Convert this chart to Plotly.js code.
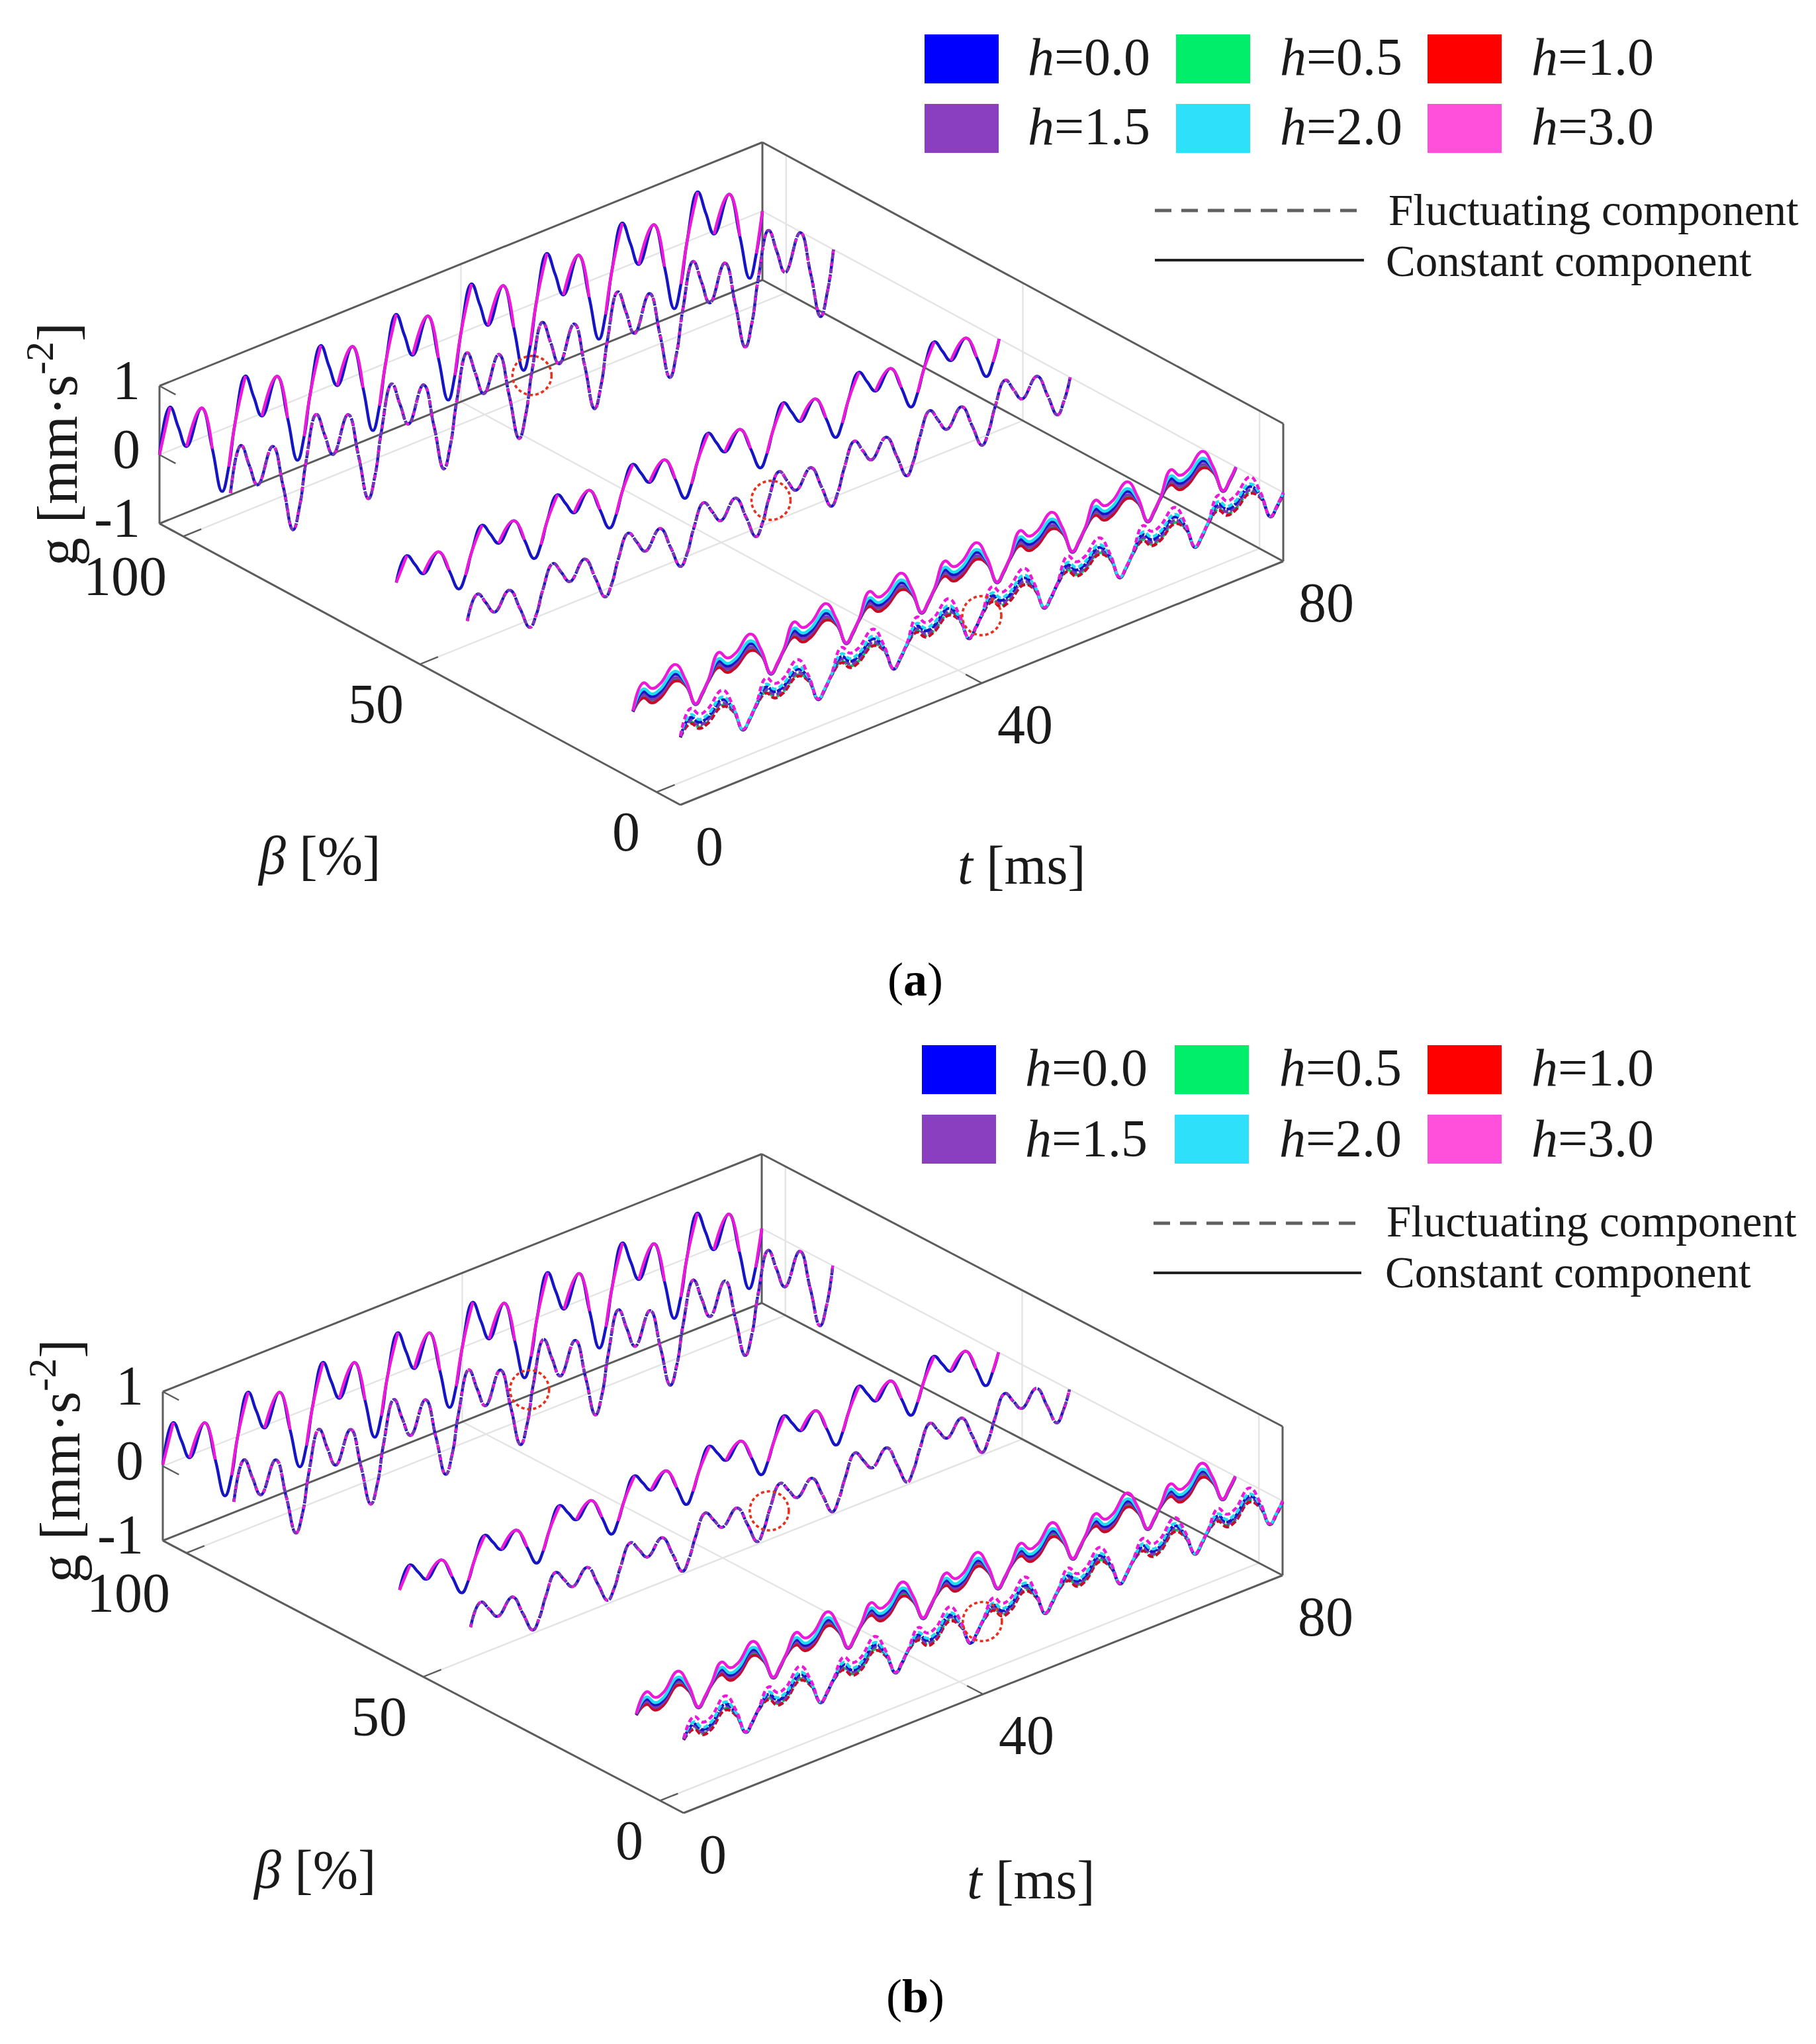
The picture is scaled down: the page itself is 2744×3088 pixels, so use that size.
<!DOCTYPE html>
<html><head><meta charset="utf-8">
<script src="https://cdn.plot.ly/plotly-3.0.1.min.js"></script>
<style>html,body{margin:0;padding:0;background:#fff}</style></head>
<body><div id="chart" style="width:2744px;height:3088px"></div>
<script>
// ---------- shared values ----------
const tMs = [
 0,1.4,2.5,3.6,5.6,7,8.3,9.2,
 10,11.4,12.5,13.6,15.6,17,18.3,19.2,
 20,21.4,22.5,23.6,25.6,27,28.3,29.2,
 30,31.4,32.5,33.6,35.6,37,38.3,39.2,
 40,41.4,42.5,43.6,45.6,47,48.3,49.2,
 50,51.4,52.5,53.6,55.6,57,58.3,59.2,
 60,61.4,62.5,63.6,65.6,67,68.3,69.2,
 70,71.4,72.5,73.6,75.6,77,78.3,79.2,
 80];
const hLabels = ['h=0.0','h=0.5','h=1.0','h=1.5','h=2.0','h=3.0'];
const betaConstant = [105,55,5];
const betaFluctuating = [90,40,-5];
const tTicks = [0,40,80];
const betaTicks = [100,50,0];
const gTicks = [1,0,-1];
const betaLabels = ['100','50','0'];
const tLabels = ['0','40','80'];
const gLabels = ['1','0','-1'];
const circleBeta = [90,40,-5];
const circleTA = [40,40.3,40];
const circleGA = [-0.06,-0.03,-0.02];
const circleTB = [39.5,39.9,39.9];
const circleGB = [-0.05,-0.03,-0.02];

// ---------- panel (a) values ----------
const aFar = [
 0.00,0.63,0.29,-0.04,0.43,-0.22,-0.90,-0.58,
 0.00,0.64,0.29,-0.04,0.45,-0.22,-0.89,-0.58,
 0.00,0.64,0.29,-0.04,0.44,-0.22,-0.90,-0.58,
 0.00,0.65,0.30,-0.04,0.44,-0.23,-0.90,-0.58,
 0.00,0.65,0.30,-0.05,0.44,-0.23,-0.91,-0.59,
 0.00,0.65,0.30,-0.05,0.44,-0.23,-0.90,-0.58,
 0.00,0.65,0.30,-0.05,0.44,-0.23,-0.90,-0.58,
 0.00,0.66,0.30,-0.05,0.44,-0.23,-0.90,-0.58,
 0.00];
const aMid = [
 0.00,0.33,0.15,-0.03,0.20,-0.13,-0.46,-0.30,
 0.00,0.33,0.15,-0.03,0.21,-0.13,-0.46,-0.30,
 0.00,0.33,0.15,-0.03,0.21,-0.13,-0.46,-0.30,
 0.00,0.33,0.15,-0.03,0.21,-0.13,-0.47,-0.30,
 0.00,0.34,0.15,-0.03,0.21,-0.13,-0.47,-0.30,
 0.00,0.34,0.15,-0.03,0.21,-0.13,-0.47,-0.30,
 0.00,0.34,0.15,-0.03,0.21,-0.13,-0.47,-0.30,
 0.00,0.34,0.15,-0.03,0.21,-0.13,-0.47,-0.30,
 0.00];
const aNear00 = [
 -0.01,0.21,0.09,0.11,0.28,0.09,-0.275,-0.16,
 -0.01,0.21,0.09,0.11,0.28,0.09,-0.275,-0.16,
 -0.01,0.21,0.09,0.11,0.28,0.09,-0.275,-0.16,
 -0.01,0.21,0.09,0.11,0.28,0.09,-0.275,-0.16,
 -0.01,0.21,0.09,0.11,0.28,0.09,-0.275,-0.16,
 -0.01,0.21,0.09,0.11,0.28,0.09,-0.275,-0.16,
 -0.01,0.21,0.09,0.11,0.28,0.09,-0.275,-0.16,
 -0.01,0.21,0.09,0.11,0.28,0.09,-0.275,-0.16,
 -0.01];
const aNear05 = [
 -0.02,0.14,0.02,0.04,0.20,0.06,-0.28,-0.17,
 -0.02,0.14,0.02,0.04,0.20,0.06,-0.28,-0.17,
 -0.02,0.14,0.02,0.04,0.20,0.06,-0.28,-0.17,
 -0.02,0.14,0.02,0.04,0.20,0.06,-0.28,-0.17,
 -0.02,0.14,0.02,0.04,0.20,0.06,-0.28,-0.17,
 -0.02,0.14,0.02,0.04,0.20,0.06,-0.28,-0.17,
 -0.02,0.14,0.02,0.04,0.20,0.06,-0.28,-0.17,
 -0.02,0.14,0.02,0.04,0.20,0.06,-0.28,-0.17,
 -0.02];
const aNear10 = [
 -0.02,0.12,0.00,0.02,0.18,0.05,-0.28,-0.17,
 -0.02,0.12,0.00,0.02,0.18,0.05,-0.28,-0.17,
 -0.02,0.12,0.00,0.02,0.18,0.05,-0.28,-0.17,
 -0.02,0.12,0.00,0.02,0.18,0.05,-0.28,-0.17,
 -0.02,0.12,0.00,0.02,0.18,0.05,-0.28,-0.17,
 -0.02,0.12,0.00,0.02,0.18,0.05,-0.28,-0.17,
 -0.02,0.12,0.00,0.02,0.18,0.05,-0.28,-0.17,
 -0.02,0.12,0.00,0.02,0.18,0.05,-0.28,-0.17,
 -0.02];
const aNear15 = [
 -0.01,0.17,0.05,0.07,0.23,0.07,-0.28,-0.16,
 -0.01,0.17,0.05,0.07,0.23,0.07,-0.28,-0.16,
 -0.01,0.17,0.05,0.07,0.23,0.07,-0.28,-0.16,
 -0.01,0.17,0.05,0.07,0.23,0.07,-0.28,-0.16,
 -0.01,0.17,0.05,0.07,0.23,0.07,-0.28,-0.16,
 -0.01,0.17,0.05,0.07,0.23,0.07,-0.28,-0.16,
 -0.01,0.17,0.05,0.07,0.23,0.07,-0.28,-0.16,
 -0.01,0.17,0.05,0.07,0.23,0.07,-0.28,-0.16,
 -0.01];
const aNear20 = [
 0.00,0.25,0.13,0.15,0.32,0.10,-0.27,-0.15,
 0.00,0.25,0.13,0.15,0.32,0.10,-0.27,-0.15,
 0.00,0.25,0.13,0.15,0.32,0.10,-0.27,-0.15,
 0.00,0.25,0.13,0.15,0.32,0.10,-0.27,-0.15,
 0.00,0.25,0.13,0.15,0.32,0.10,-0.27,-0.15,
 0.00,0.25,0.13,0.15,0.32,0.10,-0.27,-0.15,
 0.00,0.25,0.13,0.15,0.32,0.10,-0.27,-0.15,
 0.00,0.25,0.13,0.15,0.32,0.10,-0.27,-0.15,
 0.00];
const aNear30 = [
 0.00,0.34,0.21,0.23,0.42,0.13,-0.27,-0.15,
 0.00,0.34,0.21,0.23,0.42,0.13,-0.27,-0.15,
 0.00,0.34,0.21,0.23,0.42,0.13,-0.27,-0.15,
 0.00,0.34,0.21,0.23,0.42,0.13,-0.27,-0.15,
 0.00,0.34,0.21,0.23,0.42,0.13,-0.27,-0.15,
 0.00,0.34,0.21,0.23,0.42,0.13,-0.27,-0.15,
 0.00,0.34,0.21,0.23,0.42,0.13,-0.27,-0.15,
 0.00,0.34,0.21,0.23,0.42,0.13,-0.27,-0.15,
 0.00];

// ---------- panel (b) values ----------
const bFar = [
 0.02,0.53,0.24,-0.03,0.36,-0.19,-0.73,-0.49,
 0.00,0.54,0.24,-0.03,0.37,-0.19,-0.74,-0.49,
 0.00,0.54,0.24,-0.03,0.37,-0.19,-0.74,-0.49,
 0.00,0.54,0.24,-0.03,0.37,-0.19,-0.74,-0.49,
 0.00,0.55,0.25,-0.03,0.37,-0.19,-0.74,-0.49,
 0.00,0.55,0.25,-0.03,0.37,-0.19,-0.74,-0.49,
 0.00,0.55,0.25,-0.03,0.37,-0.19,-0.74,-0.49,
 0.00,0.55,0.25,-0.03,0.37,-0.19,-0.74,-0.49,
 0.00];
const bMid = [
 0.00,0.28,0.14,0.00,0.18,-0.10,-0.37,-0.24,
 0.00,0.28,0.14,0.00,0.18,-0.10,-0.37,-0.24,
 0.00,0.28,0.14,0.00,0.18,-0.10,-0.38,-0.24,
 0.00,0.28,0.14,0.00,0.18,-0.10,-0.38,-0.24,
 0.00,0.28,0.14,0.00,0.18,-0.10,-0.38,-0.24,
 0.00,0.29,0.14,0.00,0.19,-0.10,-0.38,-0.24,
 0.00,0.29,0.14,0.00,0.19,-0.10,-0.38,-0.24,
 0.00,0.29,0.14,0.00,0.19,-0.10,-0.38,-0.24,
 0.00];
const bNear00 = [
 -0.01,0.14,0.02,0.04,0.24,0.06,-0.245,-0.14,
 -0.01,0.14,0.02,0.04,0.24,0.06,-0.245,-0.14,
 -0.01,0.14,0.02,0.04,0.24,0.06,-0.245,-0.14,
 -0.01,0.14,0.02,0.04,0.24,0.06,-0.245,-0.14,
 -0.01,0.14,0.02,0.04,0.24,0.06,-0.245,-0.14,
 -0.01,0.14,0.02,0.04,0.24,0.06,-0.245,-0.14,
 -0.01,0.14,0.02,0.04,0.24,0.06,-0.245,-0.14,
 -0.01,0.14,0.02,0.04,0.24,0.06,-0.245,-0.14,
 -0.01];
const bNear05 = [
 -0.02,0.09,-0.03,-0.01,0.18,0.04,-0.25,-0.15,
 -0.02,0.09,-0.03,-0.01,0.18,0.04,-0.25,-0.15,
 -0.02,0.09,-0.03,-0.01,0.18,0.04,-0.25,-0.15,
 -0.02,0.09,-0.03,-0.01,0.18,0.04,-0.25,-0.15,
 -0.02,0.09,-0.03,-0.01,0.18,0.04,-0.25,-0.15,
 -0.02,0.09,-0.03,-0.01,0.18,0.04,-0.25,-0.15,
 -0.02,0.09,-0.03,-0.01,0.18,0.04,-0.25,-0.15,
 -0.02,0.09,-0.03,-0.01,0.18,0.04,-0.25,-0.15,
 -0.02];
const bNear10 = [
 -0.02,0.07,-0.05,-0.03,0.16,0.03,-0.25,-0.15,
 -0.02,0.07,-0.05,-0.03,0.16,0.03,-0.25,-0.15,
 -0.02,0.07,-0.05,-0.03,0.16,0.03,-0.25,-0.15,
 -0.02,0.07,-0.05,-0.03,0.16,0.03,-0.25,-0.15,
 -0.02,0.07,-0.05,-0.03,0.16,0.03,-0.25,-0.15,
 -0.02,0.07,-0.05,-0.03,0.16,0.03,-0.25,-0.15,
 -0.02,0.07,-0.05,-0.03,0.16,0.03,-0.25,-0.15,
 -0.02,0.07,-0.05,-0.03,0.16,0.03,-0.25,-0.15,
 -0.02];
const bNear15 = [
 -0.01,0.11,-0.01,0.01,0.21,0.05,-0.25,-0.14,
 -0.01,0.11,-0.01,0.01,0.21,0.05,-0.25,-0.14,
 -0.01,0.11,-0.01,0.01,0.21,0.05,-0.25,-0.14,
 -0.01,0.11,-0.01,0.01,0.21,0.05,-0.25,-0.14,
 -0.01,0.11,-0.01,0.01,0.21,0.05,-0.25,-0.14,
 -0.01,0.11,-0.01,0.01,0.21,0.05,-0.25,-0.14,
 -0.01,0.11,-0.01,0.01,0.21,0.05,-0.25,-0.14,
 -0.01,0.11,-0.01,0.01,0.21,0.05,-0.25,-0.14,
 -0.01];
const bNear20 = [
 0.00,0.17,0.05,0.07,0.27,0.07,-0.24,-0.13,
 0.00,0.17,0.05,0.07,0.27,0.07,-0.24,-0.13,
 0.00,0.17,0.05,0.07,0.27,0.07,-0.24,-0.13,
 0.00,0.17,0.05,0.07,0.27,0.07,-0.24,-0.13,
 0.00,0.17,0.05,0.07,0.27,0.07,-0.24,-0.13,
 0.00,0.17,0.05,0.07,0.27,0.07,-0.24,-0.13,
 0.00,0.17,0.05,0.07,0.27,0.07,-0.24,-0.13,
 0.00,0.17,0.05,0.07,0.27,0.07,-0.24,-0.13,
 0.00];
const bNear30 = [
 0.00,0.24,0.12,0.14,0.35,0.10,-0.24,-0.13,
 0.00,0.24,0.12,0.14,0.35,0.10,-0.24,-0.13,
 0.00,0.24,0.12,0.14,0.35,0.10,-0.24,-0.13,
 0.00,0.24,0.12,0.14,0.35,0.10,-0.24,-0.13,
 0.00,0.24,0.12,0.14,0.35,0.10,-0.24,-0.13,
 0.00,0.24,0.12,0.14,0.35,0.10,-0.24,-0.13,
 0.00,0.24,0.12,0.14,0.35,0.10,-0.24,-0.13,
 0.00,0.24,0.12,0.14,0.35,0.10,-0.24,-0.13,
 0.00];

// ---------- styles ----------
const swatchColors = ['#0000ff','#00ee6a','#ff0000','#8a3fc0','#2ee0fa','#ff50dc'];
const curveColors  = ['#1515c4','#00d060','#c80a28','#7a38b4','#22dcf4','#ee18d8'];
const dashPatterns = ['12px,2px','9px,4px','9px,4px','9px,3px','8px,4px','8px,5px'];
const nearDrawOrder = [1,2,3,0,4,5];
const boxColor = '#5c5c5c', gridColor = '#e4e4e4', serif = '"Liberation Serif","Times New Roman",serif';

// projection of (t, beta, g) onto the page, one frame per panel
const panels = [
 {F:[1028,1216],T:[911,-368],B:[-787,-425],H:208,
  far:aFar,mid:aMid,near:[aNear00,aNear05,aNear10,aNear15,aNear20,aNear30],
  cT:circleTA,cG:circleGA,
  swX:[1397,1777,2157],swW:112,swY:[52,157],swH:74,txX:[1552,1933,2313],txY:[86,191],
  lnX:[1745,2061],lnY:[318,393],lnTx:[2097,2093],lnTy:[317,394],
  gLab:[80,671],betaLab:[482,1292],tLab:[1544,1307],cap:[1383,1480],capText:'a'},
 {F:[1033,2739],T:[905,-359],B:[-787,-411.5],H:225,
  far:bFar,mid:bMid,near:[bNear00,bNear05,bNear10,bNear15,bNear20,bNear30],
  cT:circleTB,cG:circleGB,
  swX:[1393,1775,2157],swW:112,swY:[1579,1684],swH:74,txX:[1548,1932,2313],txY:[1613,1720],
  lnX:[1743,2057],lnY:[1848,1923],lnTx:[2094,2092],lnTy:[1845,1922],
  gLab:[84,2207],betaLab:[475,2824],tLab:[1558,2840],cap:[1383,3016],capText:'b'}
];
const tMin=0,tMax=80,bMin=-5,bMax=105,gMin=-1,gMax=1;
function proj(p,t,b,g){
  if(g===null) return [null,null];
  const u=(t-tMin)/(tMax-tMin), v=(b-bMin)/(bMax-bMin), w=(g-gMin)/(gMax-gMin);
  return [p.F[0]+u*p.T[0]+v*p.B[0], p.F[1]+u*p.T[1]+v*p.B[1]-w*p.H];
}
const traces=[], shapes=[], annotations=[];
function seg(p,a,b,color,width){
  const A=proj(p,a[0],a[1],a[2]), B=proj(p,b[0],b[1],b[2]);
  traces.push({x:[A[0],B[0]],y:[A[1],B[1]],mode:'lines',hoverinfo:'skip',line:{color,width},showlegend:false});
}
function curve(p,name,beta,vals,color,dash){
  const xy=vals.map((g,i)=>proj(p,tMs[i],beta,g));
  traces.push({name,x:xy.map(q=>q[0]),y:xy.map(q=>q[1]),mode:'lines',hoverinfo:'skip',showlegend:false,connectgaps:false,
    line:{color,width:4.4,shape:'spline',smoothing:1.3,dash:dash||'solid'}});
}
function text(x,y,t,size,o){
  annotations.push(Object.assign({x,y,xref:'x',yref:'y',text:t,showarrow:false,xanchor:'center',yanchor:'middle',borderpad:0,
    font:{family:serif,size,color:'#1a1a1a'}},o||{}));
}
// knots of each period where the magenta line lies behind the blue one
const hiddenKnots=[2,6];
const masked=v=>v.map((g,i)=>hiddenKnots.includes(i%8)&&i<64?null:g);

panels.forEach(p=>{
  // grid
  betaTicks.forEach(b=>{
    seg(p,[tMin,b,gMin],[tMax,b,gMin],gridColor,2.4);
    seg(p,[tMax,b,gMin],[tMax,b,gMax],gridColor,2.4);
  });
  seg(p,[40,bMin,gMin],[40,bMax,gMin],gridColor,2.4);
  seg(p,[40,bMax,gMin],[40,bMax,gMax],gridColor,2.4);
  seg(p,[tMin,bMax,0],[tMax,bMax,0],gridColor,2.4);
  seg(p,[tMax,bMax,0],[tMax,bMin,0],gridColor,2.4);
  // box
  [[[tMin,bMax,gMin],[tMin,bMin,gMin]],[[tMin,bMin,gMin],[tMax,bMin,gMin]],
   [[tMin,bMax,gMin],[tMax,bMax,gMin]],[[tMax,bMax,gMin],[tMax,bMin,gMin]],
   [[tMin,bMax,gMax],[tMax,bMax,gMax]],[[tMax,bMax,gMax],[tMax,bMin,gMax]],
   [[tMin,bMax,gMin],[tMin,bMax,gMax]],[[tMax,bMax,gMin],[tMax,bMax,gMax]],
   [[tMax,bMin,gMin],[tMax,bMin,gMax]]].forEach(s=>seg(p,s[0],s[1],boxColor,3));
  // ticks
  betaTicks.forEach(b=>seg(p,[tMin,b,gMin],[2.4,b,gMin],boxColor,2.4));
  seg(p,[40,bMin,gMin],[40,bMin+3.4,gMin],boxColor,2.4);
  gTicks.forEach(g=>seg(p,[tMin,bMax,g],[tMin,bMax-3.4,g],boxColor,2.4));

  // far and middle rows: the six h lines coincide, blue and magenta show
  [[p.far,0],[p.mid,1]].forEach(r=>{
    const bC=betaConstant[r[1]], bF=betaFluctuating[r[1]];
    curve(p,hLabels[0]+' constant',bC,r[0],curveColors[0]);
    curve(p,hLabels[5]+' constant',bC,masked(r[0]),curveColors[5]);
    curve(p,hLabels[0]+' fluctuating',bF,r[0],curveColors[0],dashPatterns[0]);
    curve(p,hLabels[3]+' fluctuating',bF,r[0],curveColors[3],'7px,4px');
    curve(p,hLabels[5]+' fluctuating',bF,r[0],curveColors[5],'4px,15px');
  });
  // near row: the h lines separate
  nearDrawOrder.forEach(i=>curve(p,hLabels[i]+' constant',betaConstant[2],p.near[i],curveColors[i]));
  nearDrawOrder.forEach(i=>curve(p,hLabels[i]+' fluctuating',betaFluctuating[2],p.near[i],curveColors[i],dashPatterns[i]));

  // red dotted circles
  circleBeta.forEach((b,i)=>{
    const c=proj(p,p.cT[i],b,p.cG[i]), r=29.5;
    shapes.push({type:'circle',xref:'x',yref:'y',x0:c[0]-r,x1:c[0]+r,y0:c[1]-r,y1:c[1]+r,
      line:{color:'#e8301c',width:3.6,dash:'5px,4px'},fillcolor:'rgba(0,0,0,0)',layer:'above'});
  });

  // tick labels
  gTicks.forEach((g,i)=>{const q=proj(p,tMin,bMax,g);text(q[0]-28,q[1]-9,gLabels[i],84,{xanchor:'right'});});
  betaTicks.forEach((b,i)=>{const q=proj(p,tMin,b,gMin);text(q[0]-24,q[1]+60,betaLabels[i],84,{xanchor:'right'});});
  tTicks.forEach((t,i)=>{const q=proj(p,t,bMin,gMin);text(q[0]+22,q[1]+62,tLabels[i],84,{xanchor:'left'});});
  // axis titles
  text(p.gLab[0],p.gLab[1],'g [mm·s<sup>-2</sup>]',86,{textangle:-90});
  text(p.betaLab[0],p.betaLab[1],'<i>β</i> [%]',82);
  text(p.tLab[0],p.tLab[1],'<i>t</i> [ms]',82);
  text(p.cap[0],p.cap[1],'(<b>'+p.capText+'</b>)',72,{font:{family:serif,size:72,color:'#000'}});
  // legend
  hLabels.forEach((h,i)=>{
    const c=i%3,r=Math.floor(i/3);
    shapes.push({type:'rect',xref:'x',yref:'y',x0:p.swX[c],x1:p.swX[c]+p.swW,y0:p.swY[r],y1:p.swY[r]+p.swH,
      fillcolor:swatchColors[i],line:{width:0},layer:'above'});
    text(p.txX[c],p.txY[r],'<i>h</i>='+h.slice(2),80,{xanchor:'left'});
  });
  shapes.push({type:'line',xref:'x',yref:'y',x0:p.lnX[0],x1:p.lnX[1],y0:p.lnY[0],y1:p.lnY[0],line:{color:'#606060',width:5,dash:'25px,15px'}});
  shapes.push({type:'line',xref:'x',yref:'y',x0:p.lnX[0],x1:p.lnX[1],y0:p.lnY[1],y1:p.lnY[1],line:{color:'#222',width:4}});
  text(p.lnTx[0],p.lnTy[0],'Fluctuating component',67,{xanchor:'left'});
  text(p.lnTx[1],p.lnTy[1],'Constant component',67,{xanchor:'left'});
});

Plotly.newPlot('chart',traces,{
  width:2744,height:3088,margin:{l:0,r:0,t:0,b:0},showlegend:false,
  paper_bgcolor:'#fff',plot_bgcolor:'#fff',
  xaxis:{range:[0,2744],visible:false,fixedrange:true},
  yaxis:{range:[3088,0],visible:false,fixedrange:true},
  shapes,annotations
},{staticPlot:true,displayModeBar:false});
</script></body></html>
